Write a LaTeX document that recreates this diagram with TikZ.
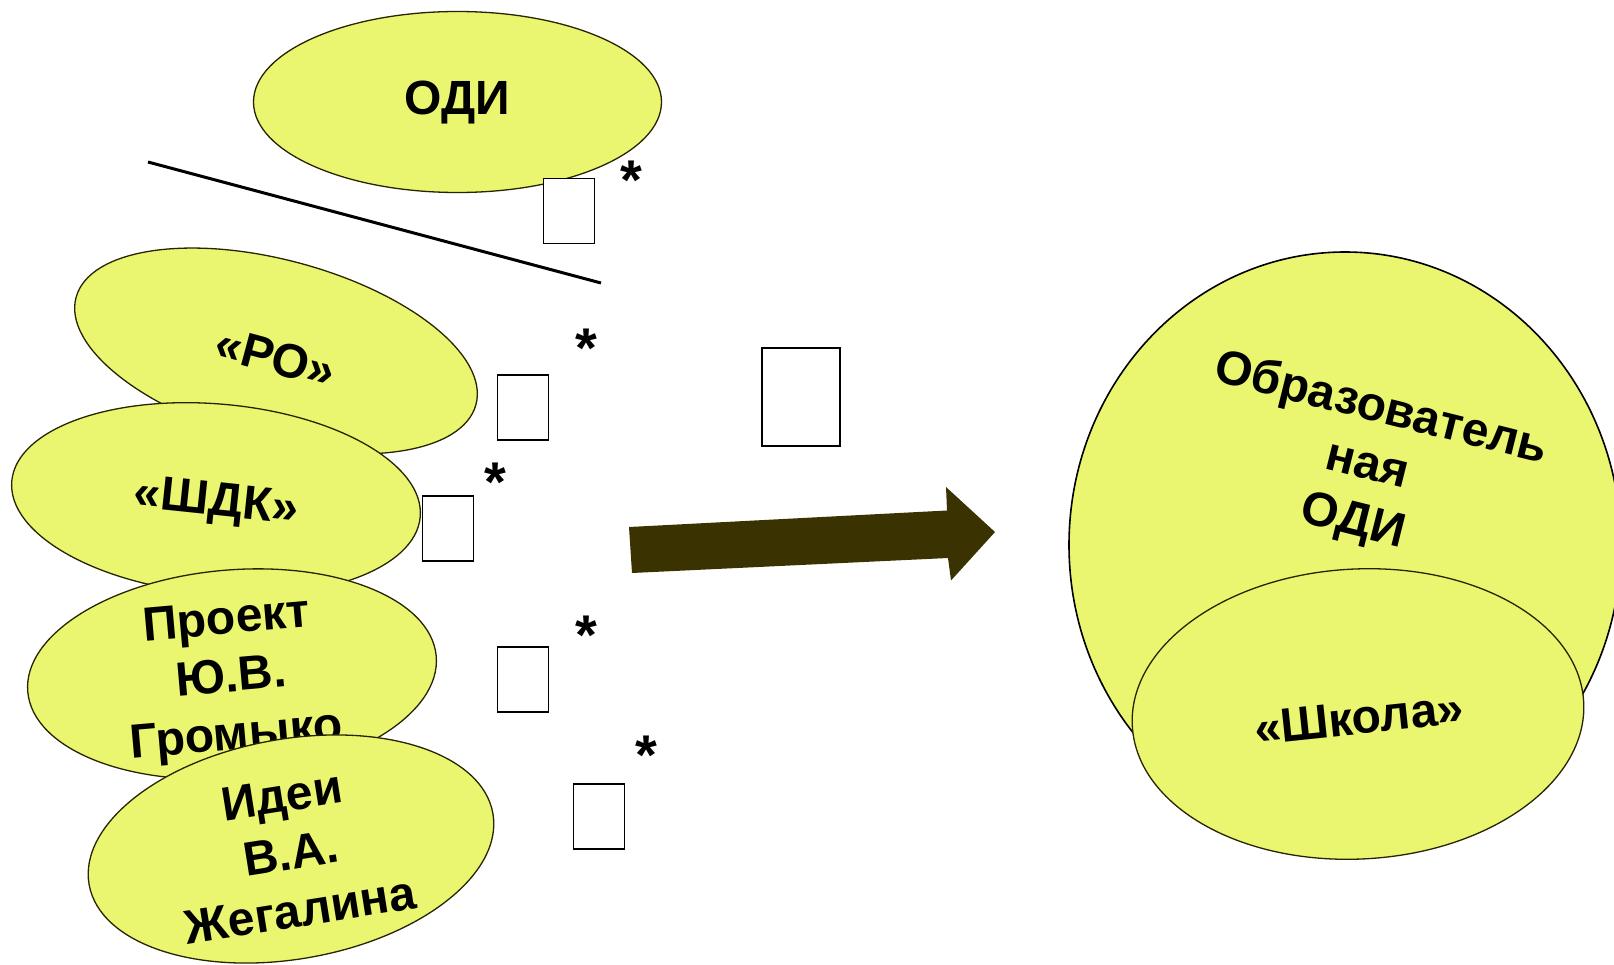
\documentclass[tikz,border=0pt]{standalone}
\usepackage{fontspec}
\setmainfont{Liberation Sans}
\usetikzlibrary{shapes.geometric}
\definecolor{blobfill}{RGB}{234,245,112}
\definecolor{blobline}{RGB}{40,36,0}
\definecolor{arrowfill}{RGB}{58,50,0}
\tikzset{
 blob/.style={ellipse, draw=blobline, line width=1.3pt, fill=blobfill, inner sep=0pt},
 lbl/.style={font=\fontsize{48}{58}\selectfont\bfseries, align=center, inner sep=0pt},
 gapbox/.style={draw=black, fill=white, line width=1.3pt, inner sep=0pt, rectangle},
 starmark/.style={font=\fontsize{56}{60}\selectfont\bfseries, inner sep=0pt, anchor=base},
}
\begin{document}
\begin{tikzpicture}[x=1pt,y=-1pt]
\useasboundingbox (0,0) rectangle (1614,964);
% top ellipse
\node[blob, minimum width=408, minimum height=181] (odi) at (457.5,102) {};
\node[lbl] (odit) at (457,103) {ОДИ};
% line
\coordinate (l1) at (148,162);
\coordinate (l2) at (601,283);
\draw[line width=3pt] (l1) -- (l2);
% left stack
\node[blob, minimum width=414, minimum height=182, rotate=-15] (ro) at (276,351) {};
\node[lbl, rotate=-15] (rot) at (276,357) {«РО»};
\node[blob, minimum width=410, minimum height=190, rotate=-5] (shdk) at (216,499) {};
\node[lbl, rotate=-6] (shdkt) at (216,504) {«ШДК»};
\node[blob, minimum width=410, minimum height=208, rotate=5] (proj) at (232,674) {};
\node[lbl, rotate=5] (projt) at (231.6,680) {Проект\\Ю.В.\\Громыко};
\node[blob, minimum width=410, minimum height=220, rotate=10] (idei) at (291,849) {};
\node[lbl, rotate=9] (ideit) at (291,853) {Идеи\\В.А.\\Жегалина};
% boxes
\node[gapbox, minimum width=51.5, minimum height=65] (g1) at (569,211) {};
\node[gapbox, minimum width=51.5, minimum height=65] (g2) at (523,407.5) {};
\node[gapbox, minimum width=51.5, minimum height=65] (g3) at (448,528.5) {};
\node[gapbox, minimum width=51.5, minimum height=65] (g4) at (523,679.5) {};
\node[gapbox, minimum width=51.5, minimum height=65] (g5) at (599,816.5) {};
\node[gapbox, line width=2.5pt, minimum width=78, minimum height=98] (gbig) at (801,397) {};
% asterisks
\node[starmark] (s1) at (631.5,199) {*};
\node[starmark] (s2) at (586,367) {*};
\node[starmark] (s3) at (495,501) {*};
\node[starmark] (s4) at (586,654.5) {*};
\node[starmark] (s5) at (646,774.5) {*};
% arrow
\fill[arrowfill] (632,573) -- (629,527) -- (947,510.5) -- (946,487) -- (995,532) -- (951,580.5) -- (948,558) -- cycle;
% right
\node[blob, draw=black, line width=1.6pt, minimum width=552, minimum height=586] (big) at (1345,545) {};
\node[lbl, rotate=-14] (bigt) at (1367,466) {Образователь\\ная\\ОДИ};
\node[blob, minimum width=452, minimum height=290, rotate=3] (school) at (1358,714) {};
\node[lbl, rotate=6] (schoolt) at (1359,718) {«Школа»};
\end{tikzpicture}
\end{document}
